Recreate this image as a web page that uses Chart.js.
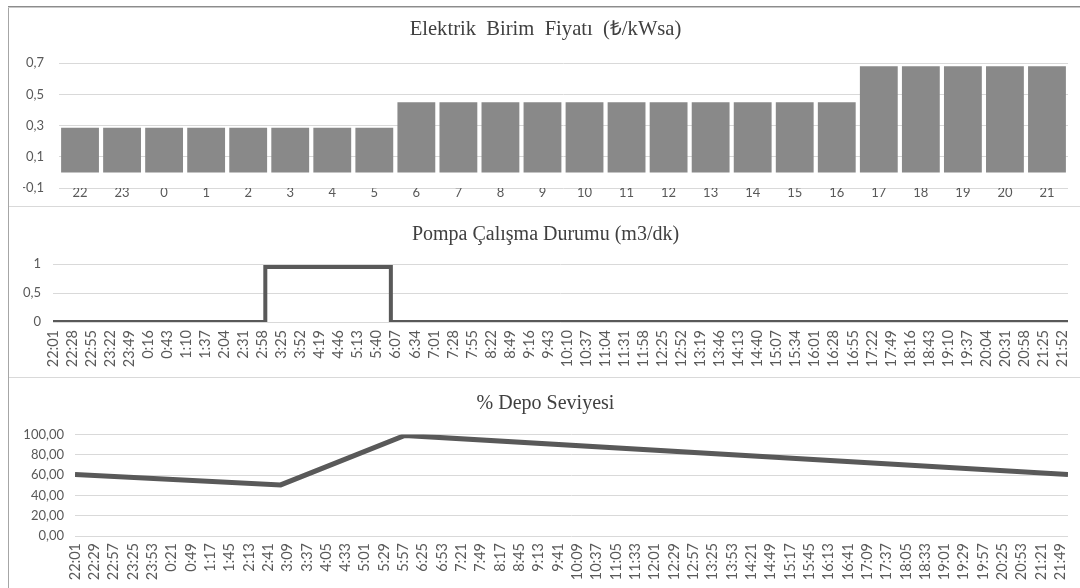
<!DOCTYPE html>
<html lang="tr">
<head>
<meta charset="utf-8">
<title>Elektrik fiyatı, pompa ve depo seviyesi</title>
<script src="https://cdn.jsdelivr.net/npm/chart.js@4.4.1/dist/chart.umd.min.js"></script>
<style>
  html, body { margin: 0; padding: 0; background: #ffffff; width: 1080px; height: 588px; overflow: hidden; }
  .line { position: absolute; }
  canvas { position: absolute; }
</style>
</head>
<body>
<div class="line" style="left:8px;top:6px;width:1px;height:582px;background:#a6a6a6"></div>
<div class="line" style="left:8px;top:6px;width:1072px;height:1px;background:#8c8c8c"></div>
<div class="line" style="left:8px;top:7px;width:1072px;height:1px;background:#c8c8c8"></div>
<div class="line" style="left:9px;top:206px;width:1071px;height:1px;background:#d9d9d9"></div>
<div class="line" style="left:9px;top:377px;width:1071px;height:1px;background:#d9d9d9"></div>

<canvas id="price" width="1071" height="198" style="left:9px;top:8px"></canvas>
<canvas id="pump" width="1071" height="170" style="left:9px;top:207px"></canvas>
<canvas id="level" width="1071" height="210" style="left:9px;top:378px"></canvas>

<script>
// ---- data ----
const priceHours = ['22','23','0','1','2','3','4','5','6','7','8','9','10','11','12','13','14','15','16','17','18','19','20','21'];
const priceValues = [0.287,0.287,0.287,0.287,0.287,0.287,0.287,0.287,
                     0.450,0.450,0.450,0.450,0.450,0.450,0.450,0.450,0.450,0.450,0.450,
                     0.681,0.681,0.681,0.681,0.681];

const pumpTickLabels = ['22:01','22:28','22:55','23:22','23:49','0:16','0:43','1:10','1:37','2:04','2:31','2:58',
  '3:25','3:52','4:19','4:46','5:13','5:40','6:07','6:34','7:01','7:28','7:55','8:22','8:49','9:16','9:43',
  '10:10','10:37','11:04','11:31','11:58','12:25','12:52','13:19','13:46','14:13','14:40','15:07','15:34',
  '16:01','16:28','16:55','17:22','17:49','18:16','18:43','19:10','19:37','20:04','20:31','20:58','21:25','21:52'];
const pumpTimes = ['22:01','3:02','3:02','6:00','6:00','22:00'];
const pumpFlow  = [0, 0, 0.95, 0.95, 0, 0];

const levelTickLabels = ['22:01','22:29','22:57','23:25','23:53','0:21','0:49','1:17','1:45','2:13','2:41','3:09',
  '3:37','4:05','4:33','5:01','5:29','5:57','6:25','6:53','7:21','7:49','8:17','8:45','9:13','9:41','10:09',
  '10:37','11:05','11:33','12:01','12:29','12:57','13:25','13:53','14:21','14:49','15:17','15:45','16:13',
  '16:41','17:09','17:37','18:05','18:33','19:01','19:29','19:57','20:25','20:53','21:21','21:49'];
const levelTimes  = ['22:01','2:59','5:59','22:00'];
const levelValues = [60.5, 50.3, 99.0, 60.5];

// ---- helpers ----
const DAY_START = 22 * 60 + 1;           // the day window starts at 22:01
function toMinute(t) {
  const [h, m] = t.split(':').map(Number);
  return ((h * 60 + m) - DAY_START + 1440) % 1440;
}
const comma = (v, d) => v.toFixed(d).replace('.', ',');

const FAMILY = 'Lato, "Liberation Sans", sans-serif';
const Y_FONT = { family: FAMILY, size: 13 };
const X_FONT = { family: FAMILY, size: 13 };
const ROT_FONT = { family: FAMILY, size: 14.5 };
const TITLE_FAMILY = '"Liberation Serif", "Times New Roman", serif';
const TICK_COLOR = '#595959';
const TITLE_COLOR = '#404040';
const GRID = '#d9d9d9';
const LINE = '#595959';
const LEFT = 14;                          // left margin inside each panel

Chart.defaults.animation = false;
Chart.defaults.responsive = false;
Chart.defaults.plugins.legend.display = false;
Chart.defaults.plugins.tooltip.enabled = false;

function title(text, size, top, bottom) {
  return { display: true, text, color: TITLE_COLOR,
           font: { family: TITLE_FAMILY, size, weight: 'normal', lineHeight: 1.2 },
           padding: { top, bottom } };
}
// fixed-width value axis; its label overhang is kept inside the plot frame
function fixY(plotLeft) {
  return s => { s.width = plotLeft - LEFT; s.paddingTop = 0; s.paddingBottom = 0; };
}

// ---- electricity unit price ----
new Chart(document.getElementById('price'), {
  type: 'bar',
  data: {
    labels: priceHours,
    datasets: [{ data: priceValues, backgroundColor: '#898989', borderWidth: 0,
                 barPercentage: 0.9, categoryPercentage: 1.0 }]
  },
  options: {
    layout: { padding: { left: LEFT, right: 12, top: 0, bottom: 4 } },
    plugins: { title: title('Elektrik  Birim  Fiyatı  (₺/kWsa)', 20.6, 9.2, 21.3) },
    scales: {
      x: {
        grid: { display: false, drawTicks: false },
        border: { display: false },
        ticks: { color: TICK_COLOR, font: X_FONT, padding: -3, maxRotation: 0, autoSkip: false },
        afterFit: s => { s.height = 14; s.paddingLeft = 0; s.paddingRight = 0; }
      },
      y: {
        min: -0.1, max: 0.7,
        border: { display: false },
        grid: {
          drawTicks: false,
          color: c => {
            const k = Math.round(c.tick.value * 10);
            if (k === 0) return '#bfbfbf';
            return Math.abs(k) % 2 === 1 ? GRID : 'rgba(0,0,0,0)';
          }
        },
        ticks: {
          stepSize: 0.1, color: TICK_COLOR, font: Y_FONT, padding: 15,
          callback: v => { const k = Math.round(v * 10); return Math.abs(k) % 2 === 1 ? comma(k / 10, 1) : ''; }
        },
        afterFit: fixY(50)
      }
    }
  }
});

// ---- shared builder for the two time-of-day line charts ----
function timeChart(id, opts) {
  const xTicks = opts.tickLabels.map(toMinute);
  return new Chart(document.getElementById(id), {
    type: 'line',
    data: {
      datasets: [{
        data: opts.times.map((t, i) => ({ x: toMinute(t), y: opts.values[i] })),
        borderColor: LINE, borderWidth: opts.lineWidth, pointRadius: 0, tension: 0,
        borderJoinStyle: 'miter', borderCapStyle: 'butt', fill: false
      }]
    },
    options: {
      layout: { padding: { left: LEFT, right: 12, top: 0, bottom: opts.bottom } },
      plugins: { title: title(opts.title, opts.titleSize, opts.titleTop, opts.titleBottom) },
      scales: {
        x: {
          type: 'linear', min: 0, max: 1439,
          grid: { display: false, drawTicks: false },
          border: { display: false },
          afterBuildTicks: s => { s.ticks = xTicks.map(v => ({ value: v })); },
          ticks: {
            color: TICK_COLOR, font: ROT_FONT, padding: opts.xPad, autoSkip: false,
            minRotation: 90, maxRotation: 90,
            callback: (v, i) => opts.tickLabels[i]
          },
          afterFit: s => { s.height = 50; s.paddingLeft = 0; s.paddingRight = 0; }
        },
        y: {
          min: opts.yMin, max: opts.yMax,
          border: { display: false },
          grid: { drawTicks: false, color: GRID },
          ticks: { stepSize: opts.yStep, color: TICK_COLOR, font: Y_FONT, padding: opts.yPad,
                   callback: opts.yFormat },
          afterFit: fixY(opts.plotLeft)
        }
      }
    }
  });
}

// ---- pump operating state ----
timeChart('pump', {
  title: 'Pompa Çalışma Durumu (m3/dk)', titleSize: 20, titleTop: 16, titleBottom: 17,
  tickLabels: pumpTickLabels, times: pumpTimes, values: pumpFlow,
  lineWidth: 4, yMin: 0, yMax: 1, yStep: 0.5,
  yFormat: v => (v === 0 || v === 1) ? String(v) : comma(v, 1),
  yPad: 12, plotLeft: 44, xPad: 8, bottom: 5
});

// ---- tank level ----
timeChart('level', {
  title: '% Depo Seviyesi', titleSize: 20, titleTop: 14.2, titleBottom: 18.2,
  tickLabels: levelTickLabels, times: levelTimes, values: levelValues,
  lineWidth: 5, yMin: 0, yMax: 100, yStep: 20,
  yFormat: v => comma(v, 2),
  yPad: 11, plotLeft: 66, xPad: 7, bottom: 2
});
</script>
</body>
</html>
